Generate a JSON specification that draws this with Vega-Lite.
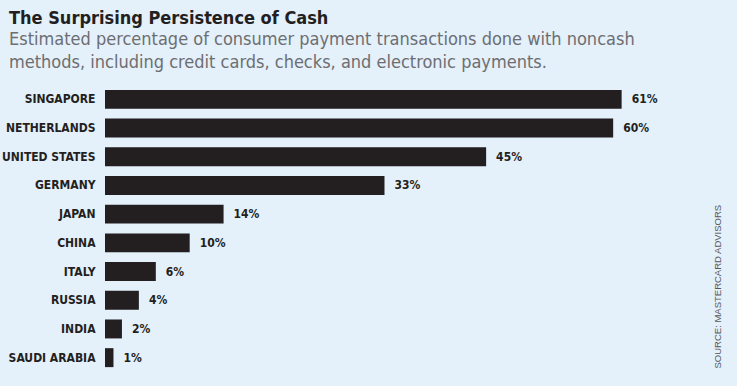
{
  "$schema": "https://vega.github.io/schema/vega-lite/v6.json",
  "width": 612,
  "height": 287,
  "autosize": {"type": "none"},
  "padding": {"left": 105, "top": 85, "right": 20, "bottom": 14},
  "background": "#e4f0fa",
  "config": {"view": {"stroke": null}},
  "title": {
    "text": "The Surprising Persistence of Cash",
    "subtitle": ["Estimated percentage of consumer payment transactions done with noncash", "methods, including credit cards, checks, and electronic payments."],
    "anchor": "start",
    "frame": "group",
    "dx": -96,
    "offset": 13,
    "font": "DejaVu Sans Condensed",
    "fontSize": 18,
    "fontWeight": "bold",
    "color": "#231f20",
    "subtitleFont": "DejaVu Sans Condensed",
    "subtitleFontSize": 18,
    "subtitleColor": "#6d6e71",
    "subtitleLineHeight": 23.5,
    "subtitlePadding": 3
  },
  "data": {
    "values": [
      {"country": "SINGAPORE", "pct": 61, "label": "61%"},
      {"country": "NETHERLANDS", "pct": 60, "label": "60%"},
      {"country": "UNITED STATES", "pct": 45, "label": "45%"},
      {"country": "GERMANY", "pct": 33, "label": "33%"},
      {"country": "JAPAN", "pct": 14, "label": "14%"},
      {"country": "CHINA", "pct": 10, "label": "10%"},
      {"country": "ITALY", "pct": 6, "label": "6%"},
      {"country": "RUSSIA", "pct": 4, "label": "4%"},
      {"country": "INDIA", "pct": 2, "label": "2%"},
      {"country": "SAUDI ARABIA", "pct": 1, "label": "1%"}
    ]
  },
  "resolve": {"axis": {"y": "independent"}},
  "layer": [
    {
      "mark": {"type": "bar", "color": "#231f20"},
      "encoding": {
        "y": {
          "field": "country", "type": "nominal", "sort": null,
          "scale": {"paddingInner": 0.34, "paddingOuter": 0.17},
          "axis": {
            "title": null, "ticks": false, "domain": false, "labelPadding": 10,
            "labelFont": "DejaVu Sans Condensed", "labelFontWeight": "bold",
            "labelFontSize": 12, "labelColor": "#231f20"
          }
        },
        "x": {"field": "pct", "type": "quantitative", "scale": {"domain": [0, 72.26], "nice": false, "zero": true}, "axis": null}
      }
    },
    {
      "mark": {"type": "text", "align": "left", "baseline": "middle", "dx": 10, "font": "DejaVu Sans Condensed", "fontWeight": "bold", "fontSize": 12, "color": "#231f20"},
      "encoding": {
        "y": {
          "field": "country", "type": "nominal", "sort": null,
          "axis": {
            "orient": "right", "title": "SOURCE: MASTERCARD ADVISORS", "labels": false, "ticks": false, "domain": false,
            "titleAngle": 270, "titleX": 0, "titleY": 283, "titleAlign": "left", "titleBaseline": "middle",
            "titleFont": "Liberation Sans", "titleFontWeight": "normal", "titleFontSize": 9.5, "titleColor": "#58595b"
          }
        },
        "x": {"field": "pct", "type": "quantitative"},
        "text": {"field": "label"}
      }
    }
  ]
}
